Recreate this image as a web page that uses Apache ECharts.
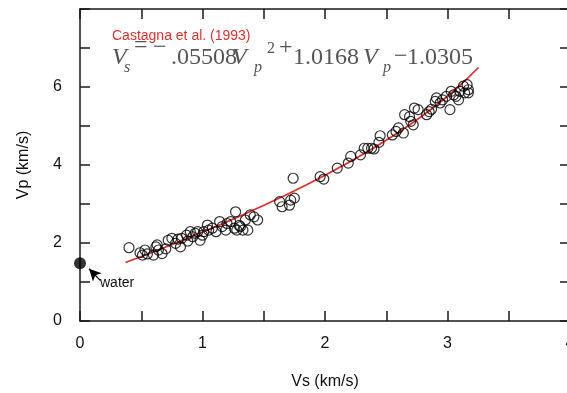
<!DOCTYPE html>
<html><head><meta charset="utf-8">
<script src="https://cdn.jsdelivr.net/npm/echarts@6/dist/echarts.min.js"></script>
<style>html,body{margin:0;padding:0;background:#fff}#c{width:567px;height:393px}</style>
</head><body><div id="c"></div>
<script>
// Measured samples (Vs, Vp) in km/s
const samples = [
 [0.40,1.88],[0.49,1.75],[0.51,1.69],[0.53,1.82],[0.55,1.72],[0.60,1.69],[0.62,1.90],[0.64,1.82],[0.63,1.95],[0.67,1.73],
 [0.70,1.85],[0.72,2.07],[0.75,2.12],[0.78,1.99],[0.80,2.10],[0.82,1.90],[0.83,2.12],[0.87,2.20],[0.88,2.05],[0.90,2.29],
 [0.92,2.16],[0.94,2.25],[0.96,2.29],[0.98,2.07],[1.00,2.20],[1.01,2.29],[1.04,2.46],[1.05,2.33],[1.08,2.38],[1.11,2.29],
 [1.14,2.55],[1.16,2.42],[1.19,2.33],[1.20,2.50],[1.23,2.55],[1.26,2.38],[1.27,2.80],[1.28,2.33],[1.30,2.45],[1.31,2.42],
 [1.33,2.33],[1.35,2.59],[1.37,2.33],[1.39,2.72],[1.42,2.67],[1.45,2.59],
 [1.63,3.06],[1.65,2.93],[1.71,2.97],[1.72,3.10],[1.75,3.15],[1.74,3.66],[1.96,3.70],[1.99,3.64],[2.10,3.92],[2.19,4.05],
 [2.21,4.22],[2.29,4.26],[2.32,4.43],[2.35,4.43],[2.38,4.43],[2.40,4.41],[2.44,4.58],[2.45,4.75],
 [2.55,4.77],[2.58,4.86],[2.60,4.95],[2.64,4.82],[2.65,5.29],[2.69,5.24],[2.70,5.12],[2.72,5.03],[2.73,5.46],[2.76,5.42],
 [2.83,5.29],[2.85,5.37],[2.87,5.43],[2.90,5.63],[2.91,5.72],[2.94,5.59],[2.96,5.67],[2.99,5.76],[3.02,5.42],[3.03,5.89],
 [3.05,5.80],[3.07,5.76],[3.09,5.67],[3.10,5.89],[3.13,6.02],[3.16,6.06],[3.17,5.93],[3.17,5.85],[3.14,5.85]
];
// Castagna et al. (1993) trend (Vs, Vp)
const trendVs = [0.371,0.783,1.167,1.524,1.854,2.155,2.430,2.677,2.896,3.087,3.252];
const trendVp = [1.5,2.0,2.5,3.0,3.5,4.0,4.5,5.0,5.5,6.0,6.5];
const water = [[0, 1.48]];
const waterArrow = [[0.165,1.04],[0.074,1.34]];
const xTitle = 'Vs (km/s)';
const yTitle = 'Vp (km/s)';
const refLabel = 'Castagna et al. (1993)';

const chart = echarts.init(document.getElementById('c'), null, {renderer:'canvas'});
const axisCol = '#1a1a1a';
const serif = '"Liberation Serif","Times New Roman",serif';
const eqCol = '#555';
function piece(t, x, base, size, italic, yc) {
  const y = (yc !== undefined) ? yc : base - 0.34*size;
  return {type:'text', x:x, y:y, silent:true,
    style:{text:t, fill:eqCol, font:(italic?'italic ':'')+size+'px '+serif, verticalAlign:'middle', align:'left'}};
}
const eq = [
  piece('V',112,66,24,true),
  piece('s',124,73,16,true),
  piece('=',134,0,24,false,46),
  piece('\u2212',153,0,24,false,48),
  piece('.05508',171,66,24,false),
  piece('V',232,66,24,true),
  piece('p',254,73,16,true),
  piece('2',267,54,16,false),
  piece('+',279,0,24,false,48),
  piece('1.0168',293,66,24,false),
  piece('V',363,66,24,true),
  piece('p',383,73,16,true),
  piece('\u2212',394,0,24,false,57),
  piece('1.0305',407,66,24,false)
];

const lab = {fontFamily:'"Liberation Sans",Arial,sans-serif', fontSize:16, color:'#111'};
chart.setOption({
  animation:false,
  grid:{left:80, top:9, width:490, height:312, containLabel:false, outerBoundsMode:'none'},
  xAxis:[
    {type:'value', min:0, max:4, interval:0.5, name:xTitle, nameLocation:'middle', nameGap:53,
     nameTextStyle:lab,
     axisLine:{onZero:false, lineStyle:{color:axisCol,width:1.5}},
     axisTick:{inside:true, length:10, lineStyle:{color:axisCol,width:1.5}},
     axisLabel:Object.assign({margin:15, formatter:v=> (Math.abs(v-Math.round(v))<1e-9 ? String(Math.round(v)) : '')}, lab),
     splitLine:{show:false}},
    {type:'value', position:'top', min:0, max:4, interval:0.5,
     axisLine:{onZero:false, lineStyle:{color:axisCol,width:1.5}},
     axisTick:{inside:true, length:10, lineStyle:{color:axisCol,width:1.5}},
     axisLabel:{show:false}, splitLine:{show:false}}
  ],
  yAxis:[
    {type:'value', min:0, max:8, interval:1, name:yTitle, nameLocation:'middle', nameGap:48,
     nameTextStyle:lab,
     axisLine:{onZero:false, lineStyle:{color:axisCol,width:1.5}},
     axisTick:{inside:true, length:10, lineStyle:{color:axisCol,width:1.5}},
     axisLabel:Object.assign({margin:18, formatter:v=> (v%2===0 && v<8 ? String(v) : '')}, lab),
     splitLine:{show:false}},
    {type:'value', position:'right', min:0, max:8, interval:1,
     axisLine:{onZero:false, lineStyle:{color:axisCol,width:1.5}},
     axisTick:{inside:true, length:10, lineStyle:{color:axisCol,width:1.5}},
     axisLabel:{show:false}, splitLine:{show:false}}
  ],
  series:[
    {type:'line', data:trendVs.map((v,i)=>[v,trendVp[i]]), smooth:true, showSymbol:false, symbol:'none',
     lineStyle:{color:'#e3302b', width:1.8}, z:2},
    {type:'scatter', data:samples, symbol:'circle', symbolSize:10,
     itemStyle:{color:'rgba(0,0,0,0)', borderColor:'#000', borderWidth:1.2}, z:3},
    {type:'scatter', data:water, symbolSize:12, clip:false, itemStyle:{color:'#000'}, z:4,
     markLine:{silent:true, symbol:['none','arrow'], symbolSize:[9,12], label:{show:false},
       lineStyle:{color:'#000', width:1.2, type:'solid'},
       data:[[{coord:waterArrow[0]},{coord:waterArrow[1]}]]}}
  ],
  graphic:[
    {type:'text', x:112, y:36, silent:true,
     style:{text:refLabel, fill:'#e3302b', font:'14px "Liberation Sans",Arial,sans-serif', verticalAlign:'middle'}},
    {type:'text', x:100, y:283, silent:true,
     style:{text:'water', fill:'#111', font:'14px "Liberation Sans",Arial,sans-serif', verticalAlign:'middle'}}
  ].concat(eq)
});
</script></body></html>
